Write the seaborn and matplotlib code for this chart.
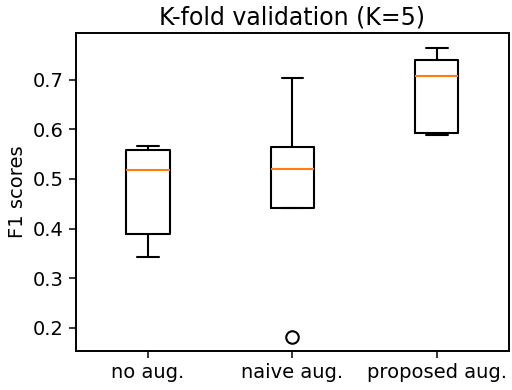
import pandas as pd
import matplotlib
matplotlib.use("Agg")
import matplotlib.pyplot as plt
import seaborn as sns

# F1 scores per fold (K=5)
methods = ["no aug.", "naive aug.", "proposed aug."]
no_aug = [0.342, 0.389, 0.519, 0.559, 0.567]
naive_aug = [0.182, 0.442, 0.520, 0.565, 0.703]
proposed_aug = [0.588, 0.593, 0.708, 0.739, 0.765]

df = pd.DataFrame({
    "method": [methods[0]] * 5 + [methods[1]] * 5 + [methods[2]] * 5,
    "f1": no_aug + naive_aug + proposed_aug,
})

sns.set_style("ticks")
plt.rcParams['font.family'] = ['DejaVu Sans']
plt.rcParams['text.color'] = 'black'
plt.rcParams['axes.labelcolor'] = 'black'
plt.rcParams['xtick.color'] = 'black'
plt.rcParams['ytick.color'] = 'black'

fig = plt.figure(figsize=(5.12, 3.9), dpi=100)
ax = fig.add_axes([0.148, 0.10, 0.846, 0.815])

lw = 1.5
sns.boxplot(data=df, x="method", y="f1", ax=ax, width=0.3, fill=False,
            color="black", linewidth=lw, whis=1.5,
            medianprops=dict(color="#ff7f0e", linewidth=lw),
            flierprops=dict(marker="o", markerfacecolor="none",
                            markeredgecolor="black", markersize=9,
                            markeredgewidth=lw),
            capwidths=0.15)

ax.set_xlim(-0.5, 2.5)
ax.set_ylim(0.153, 0.794)
ax.set_title("K-fold validation (K=5)", fontsize=17, color="black")
ax.set_xlabel("")
ax.set_ylabel("F1 scores", fontsize=14, color="black")
ax.tick_params(labelsize=14, length=5, width=1.1, colors="black")
for s in ax.spines.values():
    s.set_visible(True)
    s.set_linewidth(1.4)
    s.set_color("black")

fig.savefig("out.png", dpi=100)
